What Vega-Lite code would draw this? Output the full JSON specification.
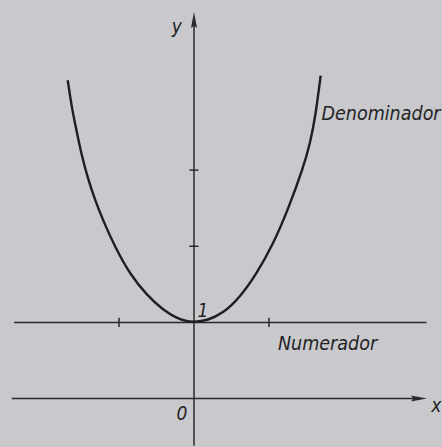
{
  "$schema": "https://vega.github.io/schema/vega-lite/v6.json",
  "width": 442,
  "height": 447,
  "autosize": {"type": "fit", "contains": "padding"},
  "padding": 0,
  "background": "#c9c9cd",
  "config": {"view": {"stroke": null}},
  "datasets": {
    "curve": [
      {"x": -1.684, "y": 4.18},
      {"x": -1.631, "y": 3.83},
      {"x": -1.580, "y": 3.58},
      {"x": -1.500, "y": 3.20},
      {"x": -1.409, "y": 2.87},
      {"x": -1.320, "y": 2.61},
      {"x": -1.209, "y": 2.33},
      {"x": -1.053, "y": 1.99},
      {"x": -0.853, "y": 1.63},
      {"x": -0.631, "y": 1.36},
      {"x": -0.409, "y": 1.16},
      {"x": -0.231, "y": 1.056},
      {"x": -0.097, "y": 1.013},
      {"x": 0.000, "y": 1.006},
      {"x": 0.169, "y": 1.02},
      {"x": 0.391, "y": 1.12},
      {"x": 0.613, "y": 1.33},
      {"x": 0.836, "y": 1.64},
      {"x": 1.057, "y": 2.03},
      {"x": 1.257, "y": 2.49},
      {"x": 1.457, "y": 3.03},
      {"x": 1.550, "y": 3.36},
      {"x": 1.620, "y": 3.71},
      {"x": 1.689, "y": 4.24}
    ],
    "segments": [
      {"x": -2.43, "y": 0, "x2": 3.0, "y2": 0},
      {"x": 0, "y": -0.62, "x2": 0, "y2": 4.97},
      {"x": -2.4, "y": 1, "x2": 3.1, "y2": 1},
      {"x": -1, "y": 0.94, "x2": -1, "y2": 1.06},
      {"x": 1, "y": 0.94, "x2": 1, "y2": 1.06},
      {"x": -0.06, "y": 2, "x2": 0.06, "y2": 2},
      {"x": -0.06, "y": 3, "x2": 0.06, "y2": 3}
    ],
    "arrows": [
      {"x": 3.0, "y": 0, "dir": "right"},
      {"x": 0, "y": 4.97, "dir": "up"}
    ],
    "axisLabels": [
      {"x": -0.23, "y": 4.88, "text": "y"},
      {"x": 3.23, "y": -0.1, "text": "x"},
      {"x": -0.16, "y": -0.2, "text": "0"},
      {"x": 0.12, "y": 1.15, "text": "1"}
    ],
    "curveLabels": [
      {"x": 1.70, "y": 3.74, "text": "Denominador"},
      {"x": 1.12, "y": 0.72, "text": "Numerador"}
    ]
  },
  "encoding": {
    "x": {"field": "x", "type": "quantitative", "axis": null,
          "scale": {"domain": [-2.587, 3.307], "nice": false, "zero": false}},
    "y": {"field": "y", "type": "quantitative", "axis": null,
          "scale": {"domain": [-0.571, 5.234], "nice": false, "zero": false}}
  },
  "layer": [
    {
      "data": {"name": "segments"},
      "mark": {"type": "rule", "color": "#2a2a2c", "strokeWidth": 1.5},
      "encoding": {
        "x2": {"field": "x2"},
        "y2": {"field": "y2"}
      }
    },
    {
      "data": {"name": "curve"},
      "mark": {"type": "line", "color": "#1e1e20", "strokeWidth": 2.4, "interpolate": "basis"},
      "encoding": {"order": {"field": "x", "type": "quantitative"}}
    },
    {
      "data": {"name": "arrows"},
      "mark": {"type": "point", "filled": true, "color": "#2a2a2c", "opacity": 1, "size": 256},
      "encoding": {
        "shape": {"field": "dir", "type": "nominal", "legend": null,
                  "scale": {"domain": ["right", "up"],
                            "range": ["M-1,-0.38L1,0L-1,0.38L-0.7,0Z", "M-0.38,1L0,-1L0.38,1L0,0.7Z"]}}
      }
    },
    {
      "data": {"name": "axisLabels"},
      "mark": {"type": "text", "font": "DejaVu Sans Condensed", "fontStyle": "italic", "fontSize": 19, "color": "#232325", "align": "center", "baseline": "middle"},
      "encoding": {"text": {"field": "text"}}
    },
    {
      "data": {"name": "curveLabels"},
      "mark": {"type": "text", "font": "DejaVu Sans Condensed", "fontStyle": "italic", "fontSize": 19.5, "color": "#232325", "align": "left", "baseline": "middle"},
      "encoding": {"text": {"field": "text"}}
    }
  ]
}
